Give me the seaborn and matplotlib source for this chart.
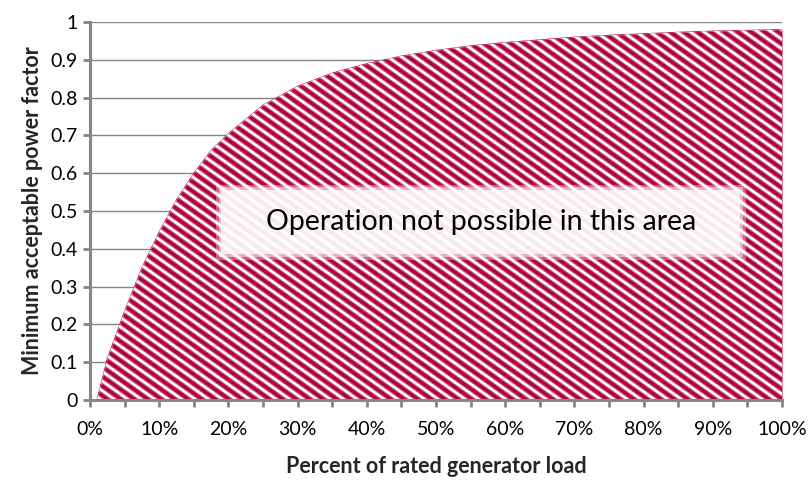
import numpy as np
import pandas as pd
import matplotlib
matplotlib.use("Agg")
import matplotlib.pyplot as plt
import seaborn as sns
from matplotlib.patches import FancyBboxPatch

# ---- data ----
load = [0.01, 0.025, 0.05, 0.075, 0.10, 0.125, 0.15, 0.175, 0.20, 0.25,
        0.30, 0.35, 0.40, 0.45, 0.50, 0.55, 0.60, 0.65, 0.70, 0.75,
        0.80, 0.85, 0.90, 0.95, 1.00]
min_pf = [0.00, 0.11, 0.235, 0.35, 0.445, 0.53, 0.60, 0.66, 0.705, 0.78,
          0.83, 0.865, 0.89, 0.91, 0.925, 0.937, 0.946, 0.953, 0.96, 0.965,
          0.969, 0.973, 0.976, 0.978, 0.98]
x_ticks = [i / 20 for i in range(21)]
x_labels = [f"{int(round(t*100))}%" if i % 2 == 0 else "" for i, t in enumerate(x_ticks)]
y_ticks = [i / 10 for i in range(11)]
y_labels = ["0", "0.1", "0.2", "0.3", "0.4", "0.5", "0.6", "0.7", "0.8", "0.9", "1"]
annotation = "Operation not possible in this area"

df = pd.DataFrame({"load": load, "pf": min_pf})

sns.set_theme(style="white")
plt.rcParams['font.family'] = ['Lato', 'DejaVu Sans']

crimson = "#B0003C"
grey = "#868686"

fig = plt.figure(figsize=(8.1, 4.8), dpi=100)
ax = fig.add_axes([90/810, 1 - 400/480, 692/810, 378/480])

# filled area
poly = ax.fill_between(df["load"], 0, df["pf"], color=crimson, linewidth=0, zorder=2)
sns.lineplot(data=df, x="load", y="pf", ax=ax, color=crimson, linewidth=0.6, zorder=3)

# diagonal white stripes clipped to the area (decoration)
clip_path = poly.get_paths()[0]
slope = -1.30  # axes-units slope (~35 deg on screen)
spacing = 13.5 / 692
for c in np.arange(-0.1, 1.0 + 1.3, spacing):
    xs = np.array([-0.2, 1.2])
    ys = slope * (xs - c)
    for lw, a in [(3.4, 0.35), (1.8, 1.0)]:
        ln, = ax.plot(xs, ys, transform=ax.transAxes, color="white", lw=lw,
                      alpha=a, zorder=3.5, solid_capstyle="butt")
        ln.set_clip_path(clip_path, ax.transData)

# axes styling
ax.set_xlim(0, 1)
ax.set_ylim(0, 1)
ax.set_xticks(x_ticks)
ax.set_xticklabels(x_labels)
ax.set_yticks(y_ticks)
ax.set_yticklabels(y_labels)
ax.grid(axis="y", color=grey, linewidth=1.0, zorder=1)
ax.set_axisbelow(True)
for s in ["top", "right"]:
    ax.spines[s].set_visible(False)
for s in ["left", "bottom"]:
    ax.spines[s].set_color(grey)
    ax.spines[s].set_linewidth(2.2)
    ax.spines[s].set_zorder(5)
ax.tick_params(axis="both", which="major", length=5, width=2, color=grey,
               direction="out", labelsize=14, labelcolor="black")
ax.tick_params(axis="x", pad=10)
ax.tick_params(axis="y", pad=4)
ax.tick_params(axis="x", bottom=True)
ax.tick_params(axis="y", left=True)

ax.set_xlabel("Percent of rated generator load", fontsize=15.5, fontweight="bold", labelpad=13)
ax.set_ylabel("Minimum acceptable power factor", fontsize=15.5, fontweight="bold", labelpad=5)

# annotation box with soft edges
bx0, by0, bx1, by1 = 0.19, 0.385, 0.94, 0.555
for grow, a in [(0.008, 0.35), (0.004, 0.5), (0.0, 0.75)]:
    r = FancyBboxPatch((bx0 - grow, by0 - grow * 1.8), (bx1 - bx0) + 2 * grow,
                       (by1 - by0) + 2 * grow * 1.8, boxstyle="square,pad=0",
                       facecolor="white", edgecolor="none", alpha=a,
                       transform=ax.transData, zorder=4)
    ax.add_patch(r)
ax.text((bx0 + bx1) / 2, (by0 + by1) / 2, annotation, ha="center", va="center",
        fontsize=20.5, color="black", zorder=6)

fig.savefig("out.png", dpi=100)
